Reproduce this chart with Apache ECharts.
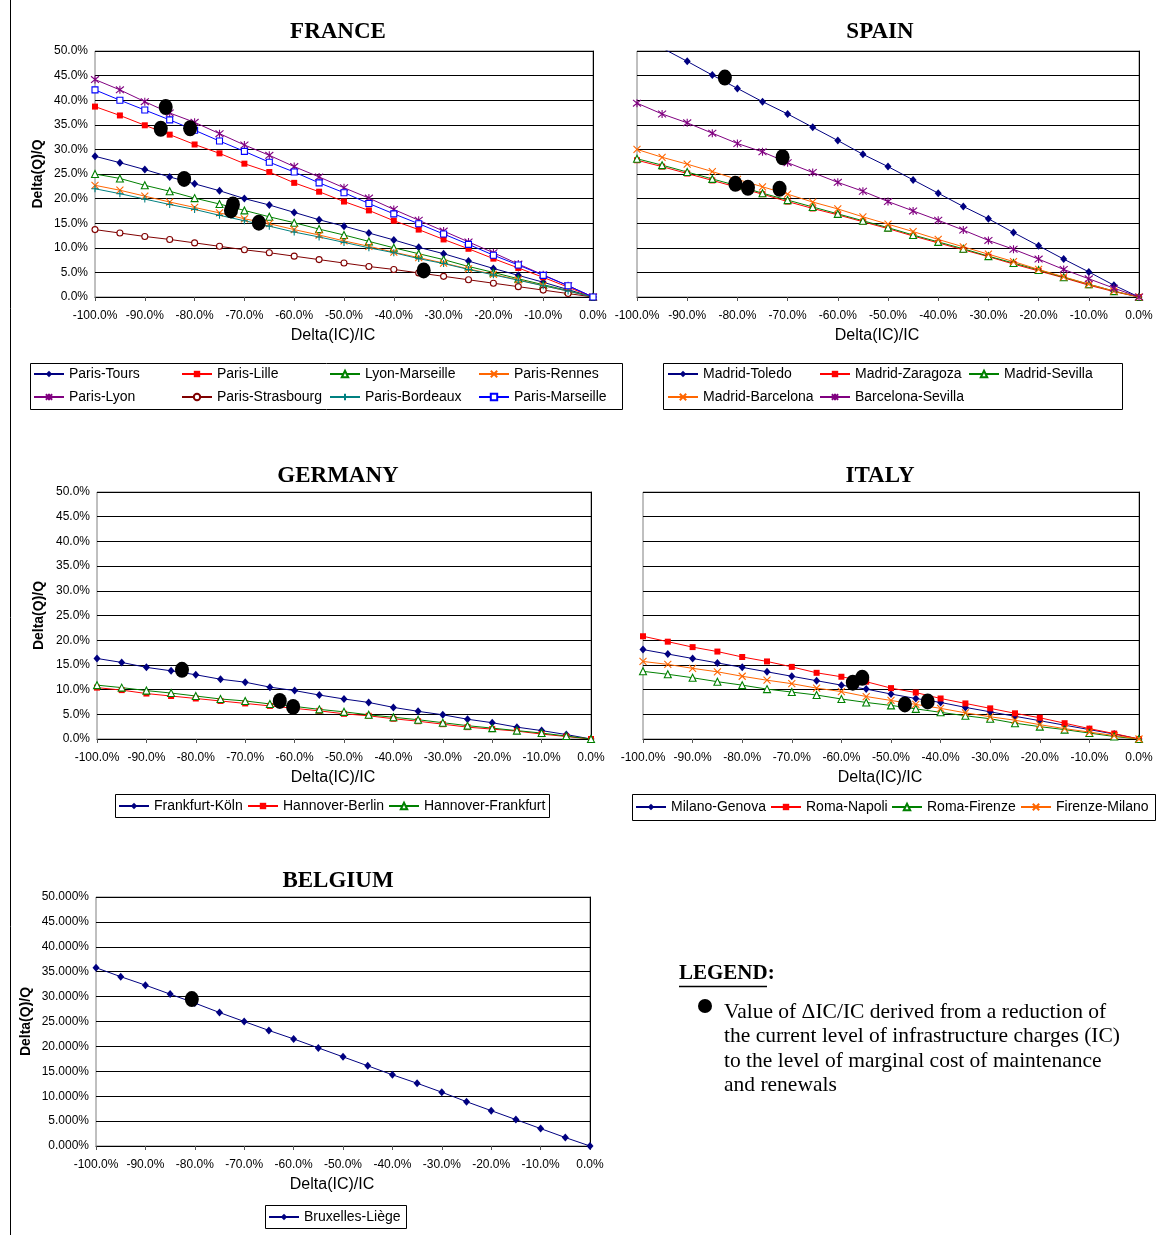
<!DOCTYPE html>
<html>
<head>
<meta charset="utf-8">
<script src="https://cdn.jsdelivr.net/npm/echarts@6/dist/echarts.min.js"></script>
<style>
  html, body { margin: 0; padding: 0; background: #fff; }
  #chart { width: 1164px; height: 1235px; }
</style>
</head>
<body>
<div id="chart"></div>
<script>
// Change in infrastructure charges, Delta(IC)/IC, in percent
const ic = [-100, -95, -90, -85, -80, -75, -70, -65, -60, -55, -50, -45, -40, -35, -30, -25, -20, -15, -10, -5, 0];
const xTicks = [-100, -90, -80, -70, -60, -50, -40, -30, -20, -10, 0];
const yTicks = [0, 5, 10, 15, 20, 25, 30, 35, 40, 45, 50];

// FRANCE: Delta(Q)/Q in percent
const parisTours      = [28.6, 27.3, 25.9, 24.4, 23.0, 21.6, 20.0, 18.7, 17.2, 15.7, 14.4, 13.0, 11.6, 10.1, 8.8, 7.3, 5.8, 4.4, 3.0, 1.5, 0];
const parisLille      = [38.7, 36.9, 34.9, 33.0, 31.0, 29.2, 27.1, 25.4, 23.2, 21.4, 19.4, 17.6, 15.5, 13.7, 11.7, 9.8, 7.8, 5.9, 4.0, 2.0, 0];
const lyonMarseille   = [25.0, 24.1, 22.7, 21.5, 20.1, 18.9, 17.6, 16.3, 15.1, 13.8, 12.6, 11.3, 10.0, 8.8, 7.6, 6.2, 5.0, 3.7, 2.5, 1.3, 0];
const parisRennes     = [22.7, 21.7, 20.5, 19.3, 18.2, 17.1, 15.9, 14.9, 13.7, 12.6, 11.4, 10.3, 9.1, 8.0, 6.9, 5.7, 4.6, 3.5, 2.3, 1.2, 0];
const parisLyon       = [44.2, 42.1, 39.7, 37.4, 35.5, 33.2, 30.9, 28.8, 26.5, 24.4, 22.2, 20.1, 17.8, 15.6, 13.4, 11.2, 9.0, 6.7, 4.5, 2.3, 0];
const parisStrasbourg = [13.7, 13.0, 12.3, 11.7, 11.0, 10.3, 9.6, 9.0, 8.3, 7.6, 6.9, 6.2, 5.6, 4.9, 4.2, 3.5, 2.8, 2.1, 1.4, 0.7, 0];
const parisBordeaux   = [22.0, 21.0, 19.9, 18.8, 17.8, 16.6, 15.5, 14.4, 13.2, 12.2, 11.1, 10.0, 9.0, 7.8, 6.8, 5.6, 4.5, 3.4, 2.3, 1.2, 0];
const parisMarseille  = [42.1, 40.0, 38.0, 36.0, 33.9, 31.7, 29.6, 27.4, 25.4, 23.2, 21.2, 19.0, 16.9, 14.9, 12.8, 10.7, 8.5, 6.5, 4.4, 2.3, 0];
const franceMcX = [-85.8, -86.8, -80.9, -82.1, -72.3, -72.7, -67.1, -34.0];
const franceMcY = [38.6, 34.2, 34.3, 24.0, 18.8, 17.6, 15.1, 5.4];

// SPAIN
const madridToledo     = [53.3, 50.6, 47.9, 45.1, 42.4, 39.7, 37.2, 34.5, 31.8, 29.0, 26.5, 23.8, 21.1, 18.4, 15.9, 13.1, 10.4, 7.7, 5.1, 2.4, 0];
const madridZaragoza   = [27.8, 26.5, 25.1, 23.7, 22.3, 20.9, 19.4, 18.0, 16.7, 15.3, 13.9, 12.4, 11.0, 9.6, 8.2, 6.7, 5.3, 3.9, 2.4, 1.1, 0];
const madridSevilla    = [28.1, 26.8, 25.4, 24.0, 22.6, 21.1, 19.7, 18.3, 16.9, 15.5, 14.1, 12.6, 11.2, 9.8, 8.3, 6.9, 5.5, 4.0, 2.6, 1.2, 0];
const madridBarcelona  = [30.0, 28.4, 27.0, 25.5, 23.9, 22.4, 20.9, 19.3, 17.9, 16.3, 14.8, 13.3, 11.7, 10.2, 8.7, 7.2, 5.6, 4.1, 2.6, 1.2, 0];
const barcelonaSevilla = [39.4, 37.2, 35.4, 33.3, 31.2, 29.5, 27.3, 25.3, 23.3, 21.5, 19.4, 17.5, 15.6, 13.6, 11.5, 9.7, 7.7, 5.6, 3.7, 1.8, 0];
const spainMcX = [-82.5, -71.0, -80.4, -77.9, -71.6];
const spainMcY = [44.6, 28.4, 23.0, 22.2, 22.0];

// GERMANY
const frankfurtKoeln    = [16.3, 15.5, 14.5, 13.8, 13.0, 12.1, 11.5, 10.5, 9.8, 8.9, 8.1, 7.4, 6.4, 5.6, 4.9, 4.0, 3.3, 2.4, 1.7, 0.9, 0];
const hannoverBerlin    = [10.4, 9.9, 9.2, 8.7, 8.2, 7.7, 7.2, 6.7, 6.2, 5.7, 5.1, 4.7, 4.1, 3.6, 3.0, 2.4, 2.0, 1.6, 1.0, 0.5, 0];
const hannoverFrankfurt = [10.9, 10.4, 9.8, 9.3, 8.7, 8.1, 7.7, 7.1, 6.6, 6.0, 5.5, 4.9, 4.4, 3.9, 3.3, 2.7, 2.2, 1.7, 1.2, 0.6, 0];
const germanyMcX = [-82.8, -63.0, -60.3];
const germanyMcY = [14.0, 7.7, 6.5];

// ITALY
const milanoGenova  = [18.1, 17.2, 16.3, 15.4, 14.5, 13.6, 12.7, 11.8, 10.9, 10.1, 9.1, 8.2, 7.4, 6.4, 5.5, 4.6, 3.7, 2.8, 1.9, 1.0, 0];
const romaNapoli    = [20.8, 19.7, 18.6, 17.7, 16.6, 15.7, 14.6, 13.4, 12.6, 11.6, 10.3, 9.4, 8.2, 7.2, 6.2, 5.2, 4.3, 3.2, 2.1, 1.1, 0];
const romaFirenze   = [13.7, 13.1, 12.4, 11.6, 10.9, 10.1, 9.5, 8.9, 8.1, 7.4, 6.8, 6.1, 5.4, 4.7, 4.1, 3.2, 2.5, 1.9, 1.2, 0.5, 0];
const firenzeMilano = [15.7, 15.1, 14.3, 13.6, 12.7, 11.9, 11.2, 10.3, 9.6, 8.6, 7.8, 7.0, 6.2, 5.3, 4.5, 3.8, 2.9, 2.1, 1.4, 0.7, 0];
const italyMcX = [-57.7, -55.8, -47.2, -42.6];
const italyMcY = [11.4, 12.4, 7.0, 7.6];

// BELGIUM
const bruxellesLiege = [35.8, 34.0, 32.3, 30.5, 28.7, 26.8, 25.0, 23.2, 21.5, 19.7, 17.9, 16.1, 14.3, 12.6, 10.8, 8.9, 7.1, 5.3, 3.5, 1.7, 0];
const belgiumMcX = [-80.6];
const belgiumMcY = [29.5];

const SANS = '"Liberation Sans", Arial, sans-serif';
const SERIF = '"Liberation Serif", "Times New Roman", serif';

// Marker shapes used by the route series
const SYM = {
  diamond:  { symbol: 'diamond', size: [7, 8], hollow: false },
  square:   { symbol: 'rect', size: 6, hollow: false },
  hsquare:  { symbol: 'rect', size: 6, hollow: true },
  triangle: { symbol: 'triangle', size: 7, hollow: true },
  circle:   { symbol: 'circle', size: 6, hollow: true },
  cross:    { symbol: 'path://M0,0L10,10M10,0L0,10', size: 7, hollow: false, stroke: true },
  star:     { symbol: 'path://M0,0L10,10M10,0L0,10M5,-1L5,11', size: 8, hollow: false, stroke: true },
  plus:     { symbol: 'path://M5,0L5,10M0,5L10,5', size: 7, hollow: false, stroke: true }
};

function route(name, values, color, shape, idx) {
  const s = SYM[shape];
  return {
    name: name,
    type: 'line',
    xAxisIndex: idx,
    yAxisIndex: idx,
    data: ic.map((x, i) => [x, values[i]]),
    symbol: s.symbol,
    symbolSize: s.size,
    showAllSymbol: true,
    clip: true,
    lineStyle: { color: color, width: 1 },
    itemStyle: {
      color: s.hollow ? '#ffffff' : (s.stroke ? 'none' : color),
      borderColor: color,
      borderWidth: (s.hollow || s.stroke) ? 1.1 : 0
    },
    emphasis: { disabled: true },
    animation: false,
    z: 3
  };
}

function mcDots(name, xs, ys, idx) {
  return {
    name: name,
    type: 'scatter',
    xAxisIndex: idx,
    yAxisIndex: idx,
    data: xs.map((x, i) => [x, ys[i]]),
    symbol: 'circle',
    symbolSize: [14, 16],
    itemStyle: { color: '#000', opacity: 1 },
    emphasis: { disabled: true },
    animation: false,
    z: 5
  };
}

const grids = [
  { left: 95,  top: 51,  width: 498, height: 246 },  // FRANCE
  { left: 637, top: 51,  width: 502, height: 246 },  // SPAIN
  { left: 97,  top: 492, width: 494, height: 247 },  // GERMANY
  { left: 643, top: 492, width: 496, height: 247 },  // ITALY
  { left: 96,  top: 897, width: 494, height: 249 }   // BELGIUM
].map(g => Object.assign({ show: true, borderColor: '#808080', borderWidth: 1, backgroundColor: '#fff' }, g));

function xAxis(idx) {
  return {
    type: 'value', gridIndex: idx,
    min: xTicks[0], max: xTicks[xTicks.length - 1], interval: 10,
    name: 'Delta(IC)/IC', nameLocation: 'middle', nameGap: 31,
    nameTextStyle: { fontFamily: SANS, fontSize: 16, color: '#000', padding: [0, 22, 0, 0] },
    axisLine: { show: true, onZero: false, lineStyle: { color: '#000', width: 1 } },
    axisTick: { show: true, length: 4, inside: false, lineStyle: { color: '#555' } },
    axisLabel: { fontFamily: SANS, fontSize: 12, color: '#000', margin: 13, formatter: v => v.toFixed(1) + '%' },
    splitLine: { show: false }
  };
}

function yAxis(idx, labels, decimals, gap) {
  return {
    type: 'value', gridIndex: idx,
    min: yTicks[0], max: yTicks[yTicks.length - 1], interval: 5,
    name: labels ? 'Delta(Q)/Q' : '', nameLocation: 'middle',
    nameGap: gap, nameRotate: 90,
    nameTextStyle: { fontFamily: SANS, fontSize: 14, fontWeight: 'bold', color: '#000' },
    axisLine: { show: true, lineStyle: { color: '#000', width: 1 } },
    axisTick: { show: true, length: 4, inside: false, lineStyle: { color: '#000' } },
    axisLabel: { show: labels, fontFamily: SANS, fontSize: 12, color: '#000', margin: 7,
                 formatter: v => v.toFixed(decimals) + '%' },
    splitLine: { show: true, lineStyle: { color: '#000', width: 1 } }
  };
}

// One legend entry per placement: [series name, text x, row centre y]
const legendSlots = [
  ['Paris-Tours', 68, 374], ['Paris-Lille', 216, 374], ['Lyon-Marseille', 364, 374], ['Paris-Rennes', 513, 374],
  ['Paris-Lyon', 68, 397], ['Paris-Strasbourg', 216, 397], ['Paris-Bordeaux', 364, 397], ['Paris-Marseille', 513, 397],
  ['Madrid-Toledo', 702, 374], ['Madrid-Zaragoza', 854, 374], ['Madrid-Sevilla', 1003, 374],
  ['Madrid-Barcelona', 702, 397], ['Barcelona-Sevilla', 854, 397],
  ['Frankfurt-Köln', 153, 806], ['Hannover-Berlin', 282, 806], ['Hannover-Frankfurt', 423, 806],
  ['Milano-Genova', 670, 807], ['Roma-Napoli', 805, 807], ['Roma-Firenze', 926, 807], ['Firenze-Milano', 1055, 807],
  ['Bruxelles-Liège', 303, 1217]
];
// Frames around each legend block: [x, y, w, h]
const legendFrames = [[30, 363, 592, 46], [663, 363, 459, 46], [115, 794, 434, 23], [632, 794, 523, 26], [265, 1205, 141, 23]];

const legends = legendSlots.map(s => ({
  data: [s[0]],
  left: s[1] - 35, top: s[2] - 8,
  padding: 0, itemGap: 0,
  itemWidth: 30, itemHeight: 8,
  selectedMode: false,
  textStyle: { fontFamily: SANS, fontSize: 14, color: '#000', lineHeight: 16 }
}));

const titles = [
  ['FRANCE', 338, 21], ['SPAIN', 880, 21], ['GERMANY', 338, 465], ['ITALY', 880, 465], ['BELGIUM', 338, 870]
].map(t => ({
  text: t[0], left: t[1], top: t[2], textAlign: 'center', padding: 0,
  textStyle: { fontFamily: SERIF, fontSize: 23, fontWeight: 'bold', color: '#000' }
}));

const option = {
  backgroundColor: '#fff',
  animation: false,
  title: titles,
  grid: grids,
  xAxis: [0, 1, 2, 3, 4].map(xAxis),
  yAxis: [yAxis(0, true, 1, 50), yAxis(1, false, 1, 50), yAxis(2, true, 1, 51), yAxis(3, false, 1, 50), yAxis(4, true, 3, 63)],
  legend: legends,
  series: [
    route('Paris-Tours', parisTours, '#000080', 'diamond', 0),
    route('Paris-Lille', parisLille, '#ff0000', 'square', 0),
    route('Lyon-Marseille', lyonMarseille, '#008000', 'triangle', 0),
    route('Paris-Rennes', parisRennes, '#ff6600', 'cross', 0),
    route('Paris-Lyon', parisLyon, '#800080', 'star', 0),
    route('Paris-Strasbourg', parisStrasbourg, '#800000', 'circle', 0),
    route('Paris-Bordeaux', parisBordeaux, '#008080', 'plus', 0),
    route('Paris-Marseille', parisMarseille, '#0000ff', 'hsquare', 0),
    mcDots('FR-MC', franceMcX, franceMcY, 0),

    route('Madrid-Toledo', madridToledo, '#000080', 'diamond', 1),
    route('Madrid-Zaragoza', madridZaragoza, '#ff0000', 'square', 1),
    route('Madrid-Sevilla', madridSevilla, '#008000', 'triangle', 1),
    route('Madrid-Barcelona', madridBarcelona, '#ff6600', 'cross', 1),
    route('Barcelona-Sevilla', barcelonaSevilla, '#800080', 'star', 1),
    mcDots('ES-MC', spainMcX, spainMcY, 1),

    route('Frankfurt-Köln', frankfurtKoeln, '#000080', 'diamond', 2),
    route('Hannover-Berlin', hannoverBerlin, '#ff0000', 'square', 2),
    route('Hannover-Frankfurt', hannoverFrankfurt, '#008000', 'triangle', 2),
    mcDots('DE-MC', germanyMcX, germanyMcY, 2),

    route('Milano-Genova', milanoGenova, '#000080', 'diamond', 3),
    route('Roma-Napoli', romaNapoli, '#ff0000', 'square', 3),
    route('Roma-Firenze', romaFirenze, '#008000', 'triangle', 3),
    route('Firenze-Milano', firenzeMilano, '#ff6600', 'cross', 3),
    mcDots('IT-MC', italyMcX, italyMcY, 3),

    route('Bruxelles-Liège', bruxellesLiege, '#000080', 'diamond', 4),
    mcDots('BE-MC', belgiumMcX, belgiumMcY, 4)
  ],
  graphic: [
    // page margin rule
    { type: 'line', shape: { x1: 10.5, y1: 0, x2: 10.5, y2: 1235 }, style: { stroke: '#000', lineWidth: 1 } },
    // legend frames
    ...legendFrames.map(f => ({
      type: 'rect', z: -1,
      shape: { x: f[0] + 0.5, y: f[1] + 0.5, width: f[2], height: f[3] },
      style: { fill: '#fff', stroke: '#000', lineWidth: 1 }
    })),
    // explanatory key for the black dots
    { type: 'text', left: 679, top: 963,
      style: { text: 'LEGEND:', font: 'bold 21px ' + SERIF, fill: '#000' } },
    { type: 'line', shape: { x1: 679, y1: 986.5, x2: 767, y2: 986.5 }, style: { stroke: '#000', lineWidth: 1.5 } },
    { type: 'circle', shape: { cx: 705, cy: 1006, r: 7 }, style: { fill: '#000' } },
    { type: 'text', left: 724, top: 1000,
      style: {
        text: 'Value of \u0394IC/IC derived from a reduction of\nthe current level of infrastructure charges (IC)\nto the level of marginal cost of maintenance\nand renewals',
        font: '21.5px ' + SERIF, lineHeight: 24.4, fill: '#000'
      } }
  ]
};

const chart = echarts.init(document.getElementById('chart'), null, { renderer: 'canvas' });
chart.setOption(option);
</script>
</body>
</html>
